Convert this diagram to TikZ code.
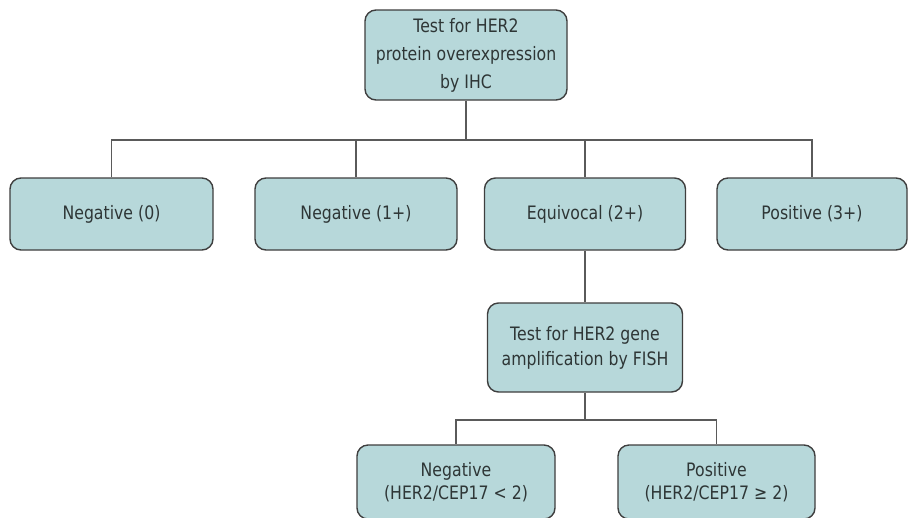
\documentclass[tikz,border=0pt]{standalone}
\usepackage{fontspec}
\setmainfont{DejaVu Sans}[FakeStretch=0.85]
\definecolor{boxfill}{HTML}{B7D8DA}
\definecolor{boxline}{HTML}{3E3E3E}
\definecolor{txt}{HTML}{2E3636}
\definecolor{conn}{HTML}{5A5A5A}
\tikzset{
  box/.style={draw=boxline, line width=1.4pt, fill=boxfill, rounded corners=11pt,
    text=txt, align=center, inner sep=0pt,
    font=\fontsize{18.5}{28}\selectfont},
  conline/.style={draw=conn, line width=1.3pt}
}
\begin{document}
\begin{tikzpicture}[x=1pt,y=-1pt]
\useasboundingbox (0,0) rectangle (909,517);
\clip (0,0) rectangle (909,517);
\node[box, minimum width=202pt, minimum height=90pt] (top) at (466,55) {Test for HER2\\protein overexpression\\by IHC};
\node[box, minimum width=203pt, minimum height=72pt] (n0) at (111.5,214) {Negative (0)};
\node[box, minimum width=202pt, minimum height=72pt] (n1) at (356,214) {Negative (1+)};
\node[box, minimum width=201pt, minimum height=72pt] (eq) at (585,214) {Equivocal (2+)};
\node[box, minimum width=190pt, minimum height=72pt] (p3) at (812,214) {Positive (3+)};
\node[box, minimum width=195pt, minimum height=89pt, font=\fontsize{18.5}{25}\selectfont] (fish) at (585,347.5) {Test for HER2 gene\\amplification by FISH};
\node[box, minimum width=198pt, minimum height=74pt, font=\fontsize{18.5}{23}\selectfont] (nf) at (456,482) {Negative\\(HER2/CEP17 < 2)};
\node[box, minimum width=197pt, minimum height=74pt, font=\fontsize{18.5}{23}\selectfont] (pf) at (716.5,482) {Positive\\(HER2/CEP17 ≥ 2)};
\coordinate (h1) at (466,140);
\coordinate (h2) at (585,420);
\draw[conline] (top.south) -- (h1);
\draw[conline] (h1) -| (n0.north);
\draw[conline] (h1) -| (n1.north);
\draw[conline] (h1) -| (eq.north);
\draw[conline] (h1) -| (p3.north);
\draw[conline] (eq.south) -- (fish.north);
\draw[conline] (fish.south) -- (h2);
\draw[conline] (h2) -| (nf.north);
\draw[conline] (h2) -| (pf.north);
\end{tikzpicture}
\end{document}
